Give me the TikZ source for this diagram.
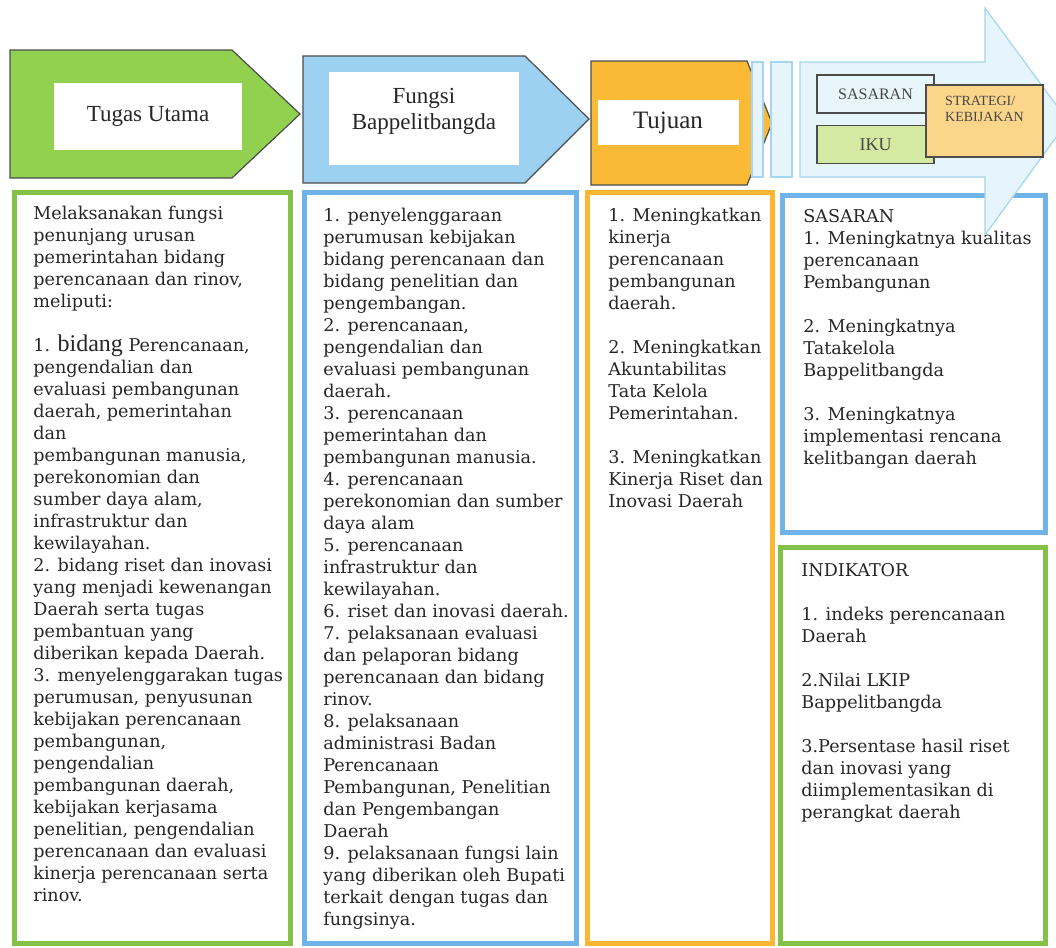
\documentclass[tikz,border=0pt]{standalone}
\usepackage{fontspec}
\setmainfont{DejaVu Serif}
\newfontfamily\timesf{Liberation Serif}
\usetikzlibrary{positioning}

\definecolor{grnfill}{HTML}{92D050}
\definecolor{blufill}{HTML}{9DD1F2}
\definecolor{orgfill}{HTML}{FBBA35}
\definecolor{paleblu}{HTML}{E6F4FB}
\definecolor{paleline}{HTML}{A5D6EE}
\definecolor{grnline}{HTML}{83C149}
\definecolor{bluline}{HTML}{70B3E8}
\definecolor{orgline}{HTML}{FBB732}
\definecolor{sasfill}{HTML}{E8F5FB}
\definecolor{ikufill}{HTML}{D4E9A2}
\definecolor{strfill}{HTML}{FAD58A}
\definecolor{ink}{HTML}{262626}

\begin{document}
\begin{tikzpicture}[x=0.5pt, y=-0.5pt,
  frame/.style={line width=2.5pt},
  body/.style={anchor=north west, inner sep=0pt, align=left, text=ink,
    font=\fontsize{8.8}{11}\selectfont},
  chev/.style={draw=black!70, line width=0.6pt},
  plate/.style={fill=white},
  pale/.style={draw=paleline, fill=paleblu, line width=0.6pt},
  head/.style={align=center, inner sep=0pt, text=ink,
    font=\timesf\fontsize{11.5}{13}\selectfont},
  tag/.style={draw=black!70, line width=0.7pt, inner sep=0pt, text=ink!85,
    font=\timesf\fontsize{8}{9}\selectfont}
]
\useasboundingbox (0,0) rectangle (1056,948);
\clip (0,0) rectangle (1056,948);

% header arrows
\draw[chev, fill=grnfill] (10,50) -- (232,50) -- (300,114) -- (232,178) -- (10,178) -- cycle;
\fill[plate] (54,83) rectangle (242,150);
\node[head] (tugas) at (148,116) {Tugas Utama};

\draw[chev, fill=blufill] (303,56) -- (525,56) -- (589,119) -- (525,183) -- (303,183) -- cycle;
\fill[plate] (329,72) rectangle (519,165);
\node[head] (fungsi) at (424,111) {Fungsi\\Bappelitbangda};

\draw[chev, fill=orgfill] (591,61) -- (747,61) -- (772,123) -- (747,185) -- (591,185) -- cycle;
\fill[plate] (598,100) rectangle (739,145);
\node[head, font=\timesf\fontsize{12.5}{14}\selectfont] (tujuan) at (668,123) {Tujuan};

\draw[pale] (752,62) rectangle (763,177);
\draw[pale] (771,62) rectangle (792,177);

% columns
\draw[frame, grnline] (14.5,192.5) rectangle (290,943);
\draw[frame, bluline] (304.5,192.5) rectangle (576.5,943);
\draw[frame, orgline] (587.5,192.5) rectangle (772,943);
\draw[frame, bluline] (782.5,195.5) rectangle (1045,532);
\draw[frame, grnline] (780,547.5) rectangle (1045,943);

% big arrow
\draw[pale] (800,62) -- (985,62) -- (985,8) -- (1068,121) -- (985,235) -- (985,177) -- (800,177) -- cycle;
\node[tag, fill=sasfill, minimum width=58.5pt, minimum height=19pt] (sas) at (875.5,94) {SASARAN};
\node[tag, fill=ikufill, minimum width=58.5pt, minimum height=19pt, below=5.5pt of sas] (iku)
  {\fontsize{9}{10}\selectfont IKU};
\node[tag, fill=strfill, minimum width=58.5pt, minimum height=36pt] (strat) at (984.5,121) {};
\node[tag, draw=none, align=left, font=\timesf\fontsize{7}{8}\selectfont] (strattxt) at (984.5,109)
  {STRATEGI/\\KEBIJAKAN};

% texts
\node[body] (tugastxt) at (33,206) {Melaksanakan fungsi\\
penunjang urusan\\
pemerintahan bidang\\
perencanaan dan rinov,\\
meliputi:\\[11pt]
1. {\timesf\fontsize{12}{11}\selectfont bidang} Perencanaan,\\
pengendalian dan\\
evaluasi pembangunan\\
daerah, pemerintahan\\
dan\\
pembangunan manusia,\\
perekonomian dan\\
sumber daya alam,\\
infrastruktur dan\\
kewilayahan.\\
2. bidang riset dan inovasi\\
yang menjadi kewenangan\\
Daerah serta tugas\\
pembantuan yang\\
diberikan kepada Daerah.\\
3. menyelenggarakan tugas\\
perumusan, penyusunan\\
kebijakan perencanaan\\
pembangunan,\\
pengendalian\\
pembangunan daerah,\\
kebijakan kerjasama\\
penelitian, pengendalian\\
perencanaan dan evaluasi\\
kinerja perencanaan serta\\
rinov.};

\node[body] (fungsitxt) at (323,208) {1. penyelenggaraan\\
perumusan kebijakan\\
bidang perencanaan dan\\
bidang penelitian dan\\
pengembangan.\\
2. perencanaan,\\
pengendalian dan\\
evaluasi pembangunan\\
daerah.\\
3. perencanaan\\
pemerintahan dan\\
pembangunan manusia.\\
4. perencanaan\\
perekonomian dan sumber\\
daya alam\\
5. perencanaan\\
infrastruktur dan\\
kewilayahan.\\
6. riset dan inovasi daerah.\\
7. pelaksanaan evaluasi\\
dan pelaporan bidang\\
perencanaan dan bidang\\
rinov.\\
8. pelaksanaan\\
administrasi Badan\\
Perencanaan\\
Pembangunan, Penelitian\\
dan Pengembangan\\
Daerah\\
9. pelaksanaan fungsi lain\\
yang diberikan oleh Bupati\\
terkait dengan tugas dan\\
fungsinya.};

\node[body] (tujuantxt) at (608,208) {1. Meningkatkan\\
kinerja\\
perencanaan\\
pembangunan\\
daerah.\\[11pt]
2. Meningkatkan\\
Akuntabilitas\\
Tata Kelola\\
Pemerintahan.\\[11pt]
3. Meningkatkan\\
Kinerja Riset dan\\
Inovasi Daerah};

\node[body] (sastxt) at (803,209) {SASARAN\\
1. Meningkatnya kualitas\\
perencanaan\\
Pembangunan\\[11pt]
2. Meningkatnya\\
Tatakelola\\
Bappelitbangda\\[11pt]
3. Meningkatnya\\
implementasi rencana\\
kelitbangan daerah};

\node[body] (indtxt) at (801,563) {INDIKATOR\\[11pt]
1. indeks perencanaan\\
Daerah\\[11pt]
2.Nilai LKIP\\
Bappelitbangda\\[11pt]
3.Persentase hasil riset\\
dan inovasi yang\\
diimplementasikan di\\
perangkat daerah};
\end{tikzpicture}
\end{document}
